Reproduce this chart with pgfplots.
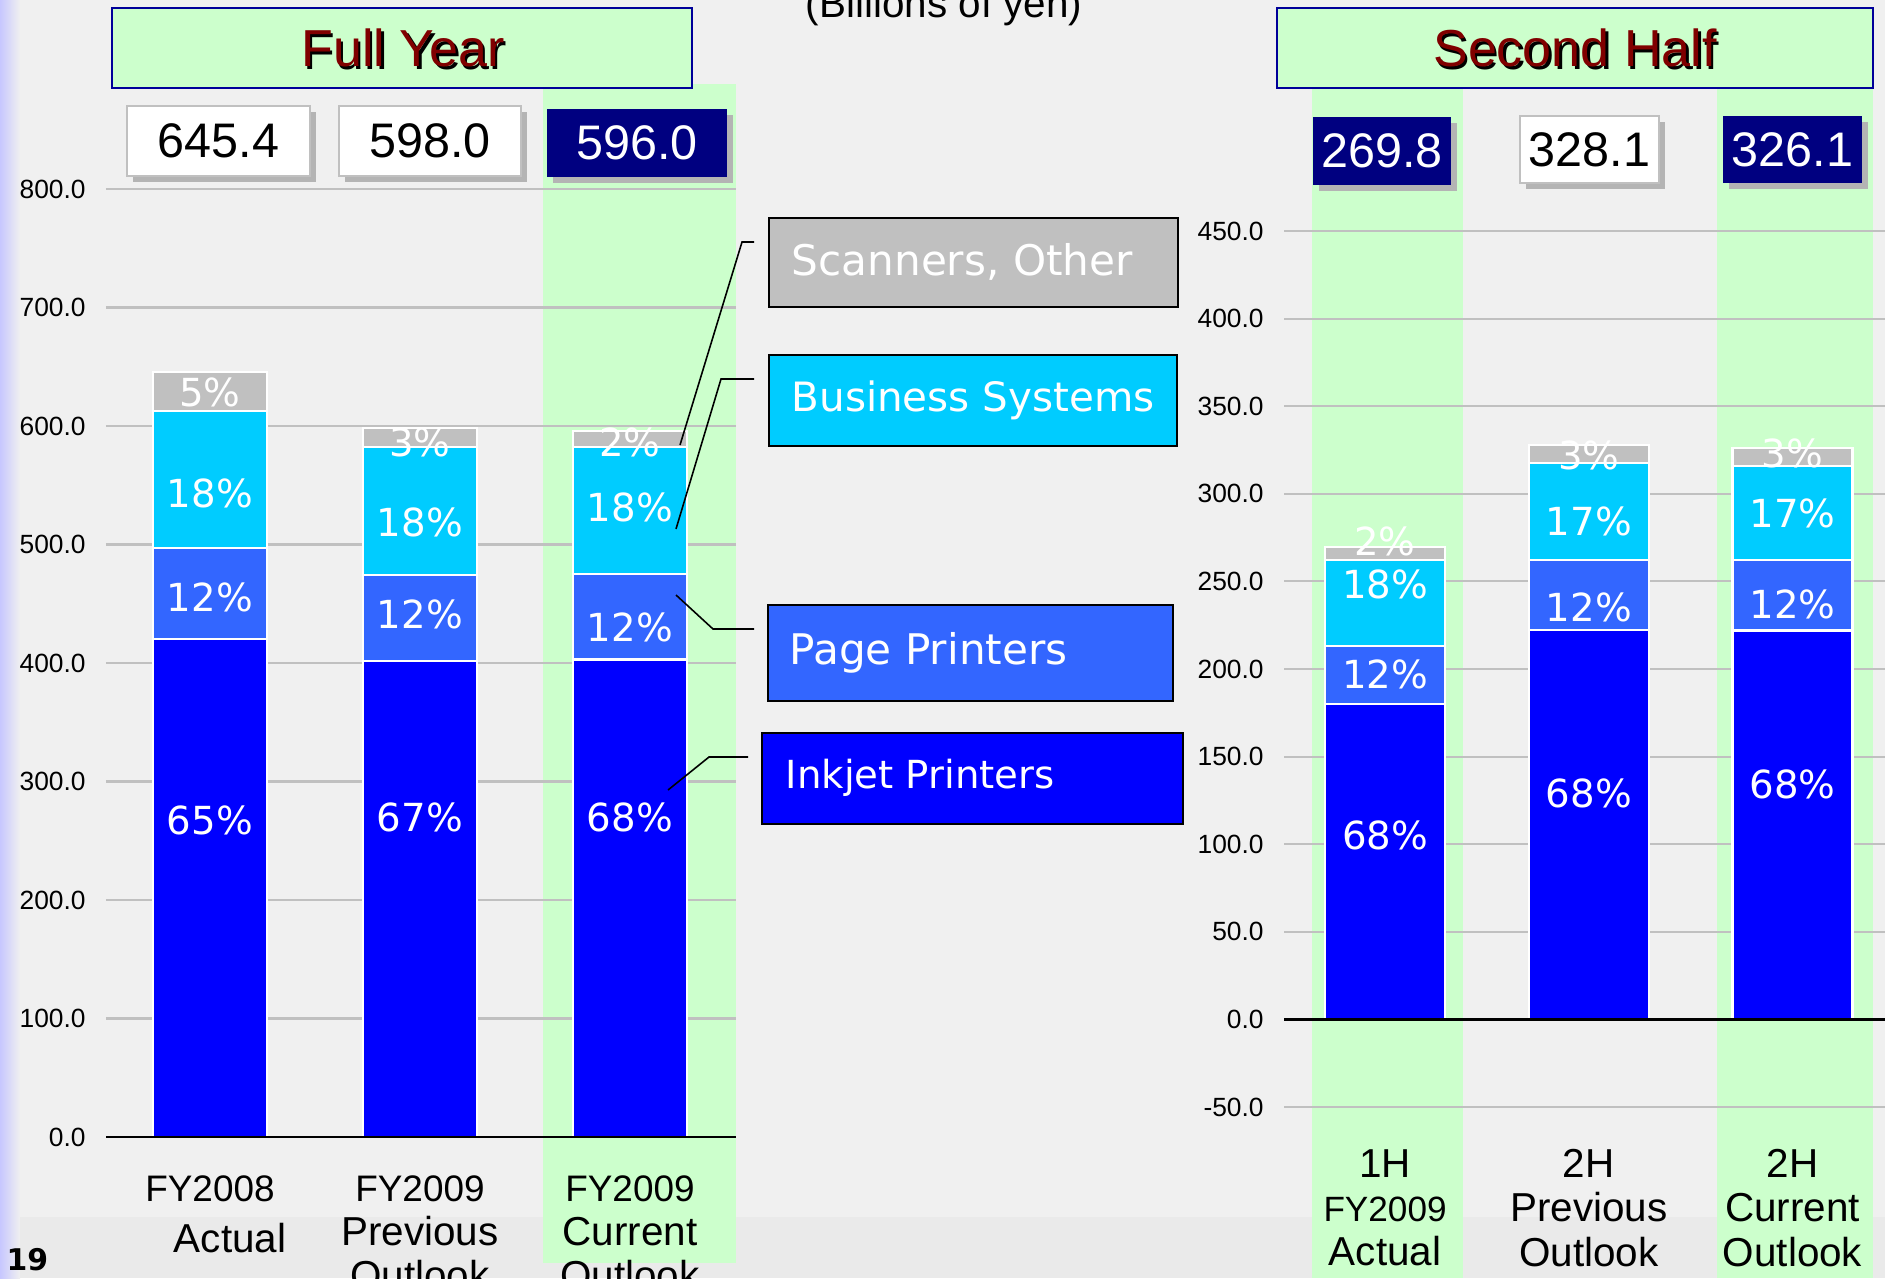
\documentclass[border=0pt]{standalone}
\usepackage{pgfplots}
\pgfplotsset{compat=1.18}
\usepackage{fontspec}
\setmainfont{Liberation Sans}
\newfontfamily\dv{DejaVu Sans}

\definecolor{bg}{HTML}{F0F0F0}
\definecolor{band}{HTML}{EAEAEA}
\definecolor{lgreen}{HTML}{CCFFCC}
\definecolor{navy}{HTML}{000080}
\definecolor{hdrblue}{HTML}{000099}
\definecolor{dred}{HTML}{800000}
\definecolor{gridgray}{HTML}{C0C0C0}
\definecolor{shadowgray}{HTML}{B4B4B4}
\definecolor{cInk}{HTML}{0000FF}
\definecolor{cPage}{HTML}{3366FF}
\definecolor{cBus}{HTML}{00CCFF}
\definecolor{cOth}{HTML}{C0C0C0}

\pgfplotsset{
  slide/.style={
    scale only axis, anchor=south west, clip=false,
    ybar stacked,
    axis line style={draw=none},
    major tick length=0pt,
    ymajorgrids, grid style={gridgray, line width=0.6pt},
    xtick={0,1,2},
    /pgf/number format/assume math mode=true,
    y tick label style={font=\fontsize{7.5}{9}\selectfont, xshift=-0.8mm,
      /pgf/number format/fixed, /pgf/number format/fixed zerofill,
      /pgf/number format/precision=1},
    x tick label style={font=\fontsize{11.5}{12.6}\selectfont, align=center, anchor=north},
  },
  seg/.style={fill=#1, draw=white, line width=0.6pt},
}
\tikzset{pct/.style={text=white, font=\dv\fontsize{11}{13}\selectfont, inner sep=0pt}}

\begin{document}
\begin{tikzpicture}
\path[use as bounding box] (0,0) rectangle (188.5mm,-127.8mm);
\clip (0,0) rectangle (188.5mm,-127.8mm);

\begin{scope}[x=0.1mm,y=-0.1mm]
\fill[bg] (0,0) rectangle (1885,1278);
\fill[band] (0,1217) rectangle (1885,1278);
\shade[left color=blue!22!white, right color=bg] (0,0) rectangle (20,1278);
\fill[lgreen] (543,84) rectangle (736,1263);
\fill[lgreen] (1312,88) rectangle (1463,1278);
\fill[lgreen] (1717,88) rectangle (1873,1278);
\end{scope}

% ---- Full Year ----
\begin{axis}[slide,
  at={(10.6mm,-113.7mm)}, width=63mm, height=94.8mm,
  bar width=11.4mm,
  xmin=-0.495, xmax=2.505, ymin=0, ymax=800,
  ytick={0,100,...,800},
  x tick label style={yshift=-2.6mm},
  xticklabels={{{\fontsize{10.5}{12}\selectfont FY2008}\\[2pt]\hspace*{1em}Actual},
               {{\fontsize{10.5}{12}\selectfont FY2009}\\Previous\\Outlook},
               {{\fontsize{10.5}{12}\selectfont FY2009}\\Current\\Outlook}},
]
\addplot[seg=cInk]  coordinates {(0,420.0) (1,401.5) (2,403.0)};
\addplot[seg=cPage] coordinates {(0,77.0) (1,73.0) (2,72.0)};
\addplot[seg=cBus]  coordinates {(0,116.0) (1,107.5) (2,107.0)};
\addplot[seg=cOth]  coordinates {(0,32.4) (1,16.0) (2,14.0)};
\coordinate (L0) at (axis cs:-0.495,0);
\coordinate (L1) at (axis cs:2.505,0);
\coordinate (a1) at (axis cs:0,628);
\coordinate (a2) at (axis cs:0,543);
\coordinate (a3) at (axis cs:0,455);
\coordinate (a4) at (axis cs:0,267);
\coordinate (b1) at (axis cs:1,586);
\coordinate (b2) at (axis cs:1,519);
\coordinate (b3) at (axis cs:1,441);
\coordinate (b4) at (axis cs:1,270);
\coordinate (c1) at (axis cs:2,586);
\coordinate (c2) at (axis cs:2,531);
\coordinate (c3) at (axis cs:2,430);
\coordinate (c4) at (axis cs:2,270);
\end{axis}
\draw[black, line width=0.7pt] (L0) -- (L1);
\node[pct] at (a1) {5\%};
\node[pct] at (a2) {18\%};
\node[pct] at (a3) {12\%};
\node[pct] at (a4) {65\%};
\node[pct] at (b1) {3\%};
\node[pct] at (b2) {18\%};
\node[pct] at (b3) {12\%};
\node[pct] at (b4) {67\%};
\node[pct] at (c1) {2\%};
\node[pct] at (c2) {18\%};
\node[pct] at (c3) {12\%};
\node[pct] at (c4) {68\%};

% ---- Second Half ----
\begin{axis}[slide,
  at={(128.4mm,-110.7mm)}, width=60.1mm, height=87.6mm,
  bar width=12mm,
  xmin=-0.496, xmax=2.454, ymin=-50, ymax=450,
  ytick={-50,0,...,450},
  x tick label style={yshift=-3.0mm},
  xticklabels={{1H\\{\fontsize{10}{12}\selectfont FY2009}\\Actual},
               {2H\\Previous\\Outlook},
               {2H\\Current\\Outlook}},
]
\addplot[seg=cInk]  coordinates {(0,180.0) (1,222.3) (2,222.0)};
\addplot[seg=cPage] coordinates {(0,33.0) (1,39.7) (2,40.0)};
\addplot[seg=cBus]  coordinates {(0,49.0) (1,55.6) (2,54.0)};
\addplot[seg=cOth]  coordinates {(0,7.8) (1,10.5) (2,10.1)};
\coordinate (R0) at (axis cs:-0.496,0);
\coordinate (R1) at (axis cs:2.454,0);
\coordinate (d1) at (axis cs:0,273);
\coordinate (d2) at (axis cs:0,248);
\coordinate (d3) at (axis cs:0,197);
\coordinate (d4) at (axis cs:0,105);
\coordinate (e1) at (axis cs:1,322);
\coordinate (e2) at (axis cs:1,284);
\coordinate (e3) at (axis cs:1,235);
\coordinate (e4) at (axis cs:1,129);
\coordinate (f1) at (axis cs:2,323);
\coordinate (f2) at (axis cs:2,289);
\coordinate (f3) at (axis cs:2,237);
\coordinate (f4) at (axis cs:2,134);
\end{axis}
\draw[black, line width=0.7pt] (R0) -- (R1);
\node[pct] at (d1) {2\%};
\node[pct] at (d2) {18\%};
\node[pct] at (d3) {12\%};
\node[pct] at (d4) {68\%};
\node[pct] at (e1) {3\%};
\node[pct] at (e2) {17\%};
\node[pct] at (e3) {12\%};
\node[pct] at (e4) {68\%};
\node[pct] at (f1) {3\%};
\node[pct] at (f2) {17\%};
\node[pct] at (f3) {12\%};
\node[pct] at (f4) {68\%};

\begin{scope}[x=0.1mm,y=-0.1mm]
% headers
\filldraw[fill=lgreen, draw=hdrblue, line width=0.8pt] (112,8) rectangle (692,88);
\filldraw[fill=lgreen, draw=hdrblue, line width=0.8pt] (1277,8) rectangle (1873,88);
\foreach \xx/\tt in {403/Full Year, 1575/Second Half} {
  \node[black, font=\fontsize{14.8}{16}\selectfont] at (\xx+2.5,50.5) {\tt};
  \node[dred, font=\fontsize{14.8}{16}\selectfont] at (\xx,48) {\tt};
}
\node[anchor=base, font=\fontsize{11.5}{13}\selectfont] at (944,17) {(Billions of yen)};

% total boxes
\tikzset{tot/.style={font=\fontsize{13.8}{15}\selectfont}}
\fill[shadowgray] (133,112) rectangle (316,182);
\filldraw[fill=white, draw=gridgray, line width=0.6pt] (127,106) rectangle (310,176);
\node[tot] at (218.5,141) {645.4};
\fill[shadowgray] (345,112) rectangle (527,182);
\filldraw[fill=white, draw=gridgray, line width=0.6pt] (339,106) rectangle (521,176);
\node[tot] at (430,141) {598.0};
\fill[shadowgray] (553,115) rectangle (733,183);
\fill[navy] (547,109) rectangle (727,177);
\node[tot, white] at (637,143) {596.0};
\fill[shadowgray] (1319,123) rectangle (1457,191);
\fill[navy] (1313,117) rectangle (1451,185);
\node[tot, white] at (1382,151) {269.8};
\fill[shadowgray] (1526,122) rectangle (1665,189);
\filldraw[fill=white, draw=gridgray, line width=0.6pt] (1520,116) rectangle (1659,183);
\node[tot] at (1589.5,149.5) {328.1};
\fill[shadowgray] (1729,122) rectangle (1868,189);
\fill[navy] (1723,116) rectangle (1862,183);
\node[tot, white] at (1792.5,149.5) {326.1};

% legend call-outs
\tikzset{lg/.style={anchor=west, text=white, inner sep=0pt}}
\filldraw[fill=cOth, draw=black, line width=0.6pt] (769,218) rectangle (1178,307);
\node[lg, font=\dv\fontsize{12}{14}\selectfont] at (791,262) {Scanners, Other};
\filldraw[fill=cBus, draw=black, line width=0.6pt] (769,355) rectangle (1177,446);
\node[lg, font=\dv\fontsize{11.5}{14}\selectfont] at (791,400) {Business Systems};
\filldraw[fill=cPage, draw=black, line width=0.6pt] (768,605) rectangle (1173,701);
\node[lg, font=\dv\fontsize{12}{14}\selectfont] at (789,653) {Page Printers};
\filldraw[fill=cInk, draw=black, line width=0.6pt] (762,733) rectangle (1183,824);
\node[lg, font=\dv\fontsize{11}{14}\selectfont] at (785,778) {Inkjet Printers};

\draw[black, line width=0.45pt] (754,242) -- (742,242) -- (680,445);
\draw[black, line width=0.45pt] (754,379) -- (721,379) -- (676,529);
\draw[black, line width=0.45pt] (754,629) -- (713,629) -- (676,595);
\draw[black, line width=0.45pt] (748,757) -- (709,757) -- (668,790);

\node[anchor=base west, font=\dv\bfseries\fontsize{8.5}{10}\selectfont, inner sep=0pt] at (6,1270) {19};
\end{scope}
\end{tikzpicture}
\end{document}
